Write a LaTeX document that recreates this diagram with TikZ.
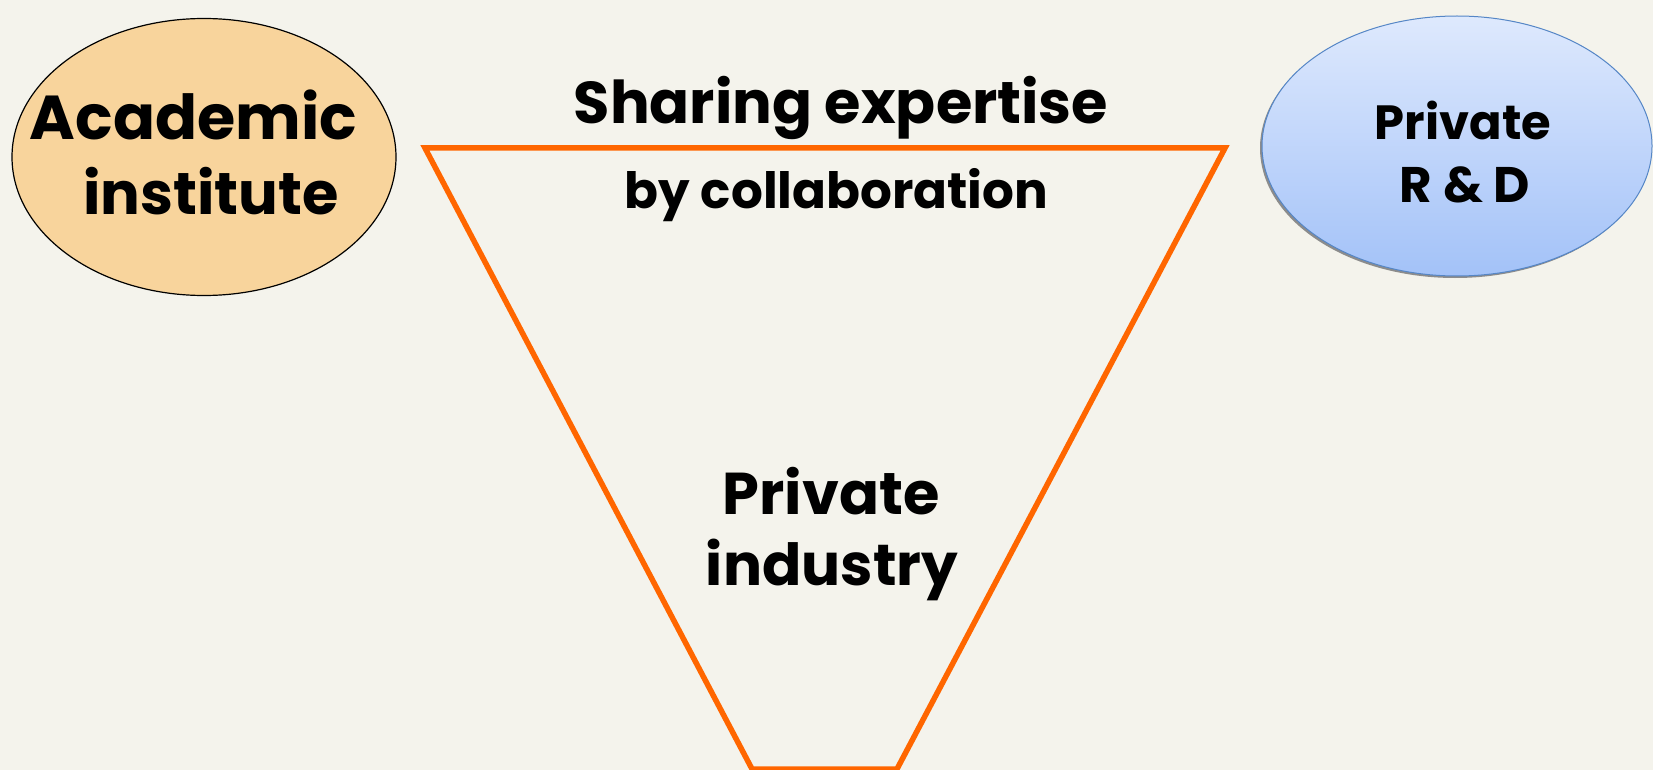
\documentclass[tikz,border=0pt]{standalone}
\usepackage{fontspec}
\setmainfont{Poppins}
\usetikzlibrary{shapes.geometric}
\definecolor{bg}{HTML}{F4F3EC}
\definecolor{orfill}{HTML}{F8D49C}
\definecolor{bltop}{HTML}{DEE9FD}
\definecolor{blbot}{HTML}{A3C2F8}
\definecolor{blline}{HTML}{5586C6}
\definecolor{funnel}{HTML}{FF6600}
\tikzset{
  lbl/.style={anchor=base, inner sep=0pt, font=\bfseries\fontsize{#1}{#1}\selectfont, text=black},
  bubble/.style={ellipse, inner sep=0pt}
}
\begin{document}
\begin{tikzpicture}[x=1pt,y=-1pt]
\useasboundingbox[fill=bg] (0,0) rectangle (1653,770);
% left ellipse
\node[bubble, draw=black, line width=1.2pt, fill=orfill, minimum width=384pt, minimum height=277pt] (acad) at (204,157) {};
\node[lbl=62] (acad1) at (193.5,140) {Academic};
\node[lbl=59] (acad2) at (211,214) {institute};
% right ellipse shadow + ellipse
\node[bubble, fill=black!45, minimum width=390pt, minimum height=260pt] (rdshadow) at (1455,148) {};
\node[bubble, draw=blline, line width=1pt, top color=bltop, bottom color=blbot, minimum width=390pt, minimum height=260pt] (rd) at (1457,146) {};
\node[lbl=48] (rd1) at (1463,140) {Private};
\node[lbl=50] (rd2) at (1465,203) {R \& D};
% funnel
\coordinate (tl) at (425,148);
\coordinate (tr) at (1225,148);
\coordinate (br) at (897,769);
\coordinate (bl) at (752,769);
\draw[funnel, line width=5.5pt, line join=miter] (tl) -- (tr) -- (br) -- (bl) -- cycle;
\node[lbl=59] (share) at (841,124) {Sharing expertise};
\node[lbl=50] (collab) at (836.5,208) {by collaboration};
\node[lbl=59] (ind1) at (831,514) {Private};
\node[lbl=58] (ind2) at (832,585) {industry};
\end{tikzpicture}
\end{document}
